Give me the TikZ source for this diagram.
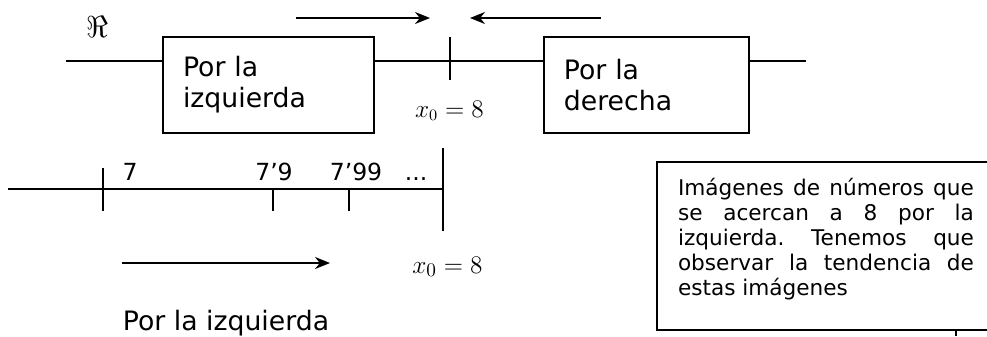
\documentclass[tikz,border=0pt]{standalone}
\usepackage[no-math]{fontspec}
\setmainfont{DejaVu Sans}
\usetikzlibrary{arrows.meta}

\tikzset{
    EMPTY/.style={inner sep=0mm, outer sep=0mm},
    BOX/.style={draw=black, shape=rectangle, line width=1.1pt,
        minimum height=1.92cm, inner xsep=0.4cm, align=left,
        font={\fontsize{15.2}{17.6}\selectfont}},
    NOTE_BOX/.style={draw=black, shape=rectangle, line width=1.6pt,
        minimum width=6.76cm, minimum height=3.36cm},
    NOTE_TEXT/.style={EMPTY, anchor=base west, text width=5.92cm, align=justify,
        font={\fontsize{12.3}{14.3}\selectfont}},
    TICK_LABEL/.style={EMPTY, anchor=base, font={\fontsize{13.4}{16}\selectfont}},
    WORD/.style={EMPTY, anchor=base, font={\fontsize{15.2}{17.6}\selectfont}},
    EDGE/.style={draw=black, line width=1.1pt},
    ARROW_EDGE/.style={EDGE, -{Stealth[length=3mm, width=2.4mm]}}
}
\pgfdeclarelayer{edgelayer}
\pgfdeclarelayer{nodelayer}
\pgfsetlayers{edgelayer,nodelayer,main}

\begin{document}
\begin{tikzpicture}[x=0.02cm, y=-0.02cm]
    \useasboundingbox (0, 0) rectangle (987, 336);
    \begin{pgfonlayer}{nodelayer}
        \node [EMPTY, font={\fontsize{18.5}{22}\selectfont}] (1) at (97, 27) {$\Re$};
        \coordinate (2) at (66, 61);
        \node [BOX, minimum width=4.22cm, text width=3.42cm] (3) at (268.5, 85) {Por la\\izquierda};
        \node [BOX, minimum width=4.1cm, text width=3.3cm] (4) at (646.4, 85) {Por la\\derecha};
        \coordinate (5) at (806, 61);
        \coordinate (6) at (450, 37);
        \coordinate (7) at (450, 80);
        \node [TICK_LABEL] (8) at (449.5, 117) {$x_0=8$};
        \coordinate (9) at (296, 18);
        \coordinate (10) at (430, 18);
        \coordinate (11) at (601, 18);
        \coordinate (12) at (470, 18);
        \coordinate (13) at (8, 189);
        \coordinate (14) at (443, 189);
        \coordinate (15) at (103, 168);
        \coordinate (16) at (103, 211);
        \coordinate (17) at (273, 189);
        \coordinate (18) at (273, 211);
        \coordinate (19) at (349, 189);
        \coordinate (20) at (349, 211);
        \coordinate (21) at (443, 148);
        \coordinate (22) at (443, 231);
        \node [TICK_LABEL] (23) at (130, 180) {7};
        \node [TICK_LABEL] (24) at (274, 180) {7'9};
        \node [TICK_LABEL] (25) at (356, 180) {7'99};
        \node [TICK_LABEL] (26) at (416, 180) {...};
        \coordinate (27) at (122, 263);
        \coordinate (28) at (330, 263);
        \node [EMPTY, anchor=base, font={\fontsize{15.4}{18}\selectfont}] (29) at (447.5, 273) {$x_0=8$};
        \node [WORD] (30) at (226, 330) {Por la izquierda};
        \node [NOTE_BOX] (31) at (826, 246) {};
        \node [NOTE_TEXT] (32) at (678, 195) {\fontsize{12.3}{14.3}\selectfont
            \frenchspacing\hyphenpenalty=10000\tolerance=10000
            Imágenes de números que\linebreak
            se acercan a 8 por la\linebreak
            izquierda. Tenemos que\linebreak
            observar la tendencia de\linebreak
            estas imágenes};
        \coordinate (33) at (956, 330);
        \coordinate (34) at (956, 336);
    \end{pgfonlayer}
    \begin{pgfonlayer}{edgelayer}
        \draw[EDGE] (2) to (2 -| 3.west);
        \draw[EDGE] (2 -| 3.east) to (2 -| 4.west);
        \draw[EDGE] (2 -| 4.east) to (5);
        \draw[EDGE] (6) to (7);
        \draw[ARROW_EDGE] (9) to (10);
        \draw[ARROW_EDGE] (11) to (12);
        \draw[EDGE] (13) to (14);
        \draw[EDGE] (15) to (16);
        \draw[EDGE] (17) to (18);
        \draw[EDGE] (19) to (20);
        \draw[EDGE] (21) to (22);
        \draw[ARROW_EDGE] (27) to (28);
        \draw[EDGE] (33) to (34);
    \end{pgfonlayer}
\end{tikzpicture}
\end{document}
